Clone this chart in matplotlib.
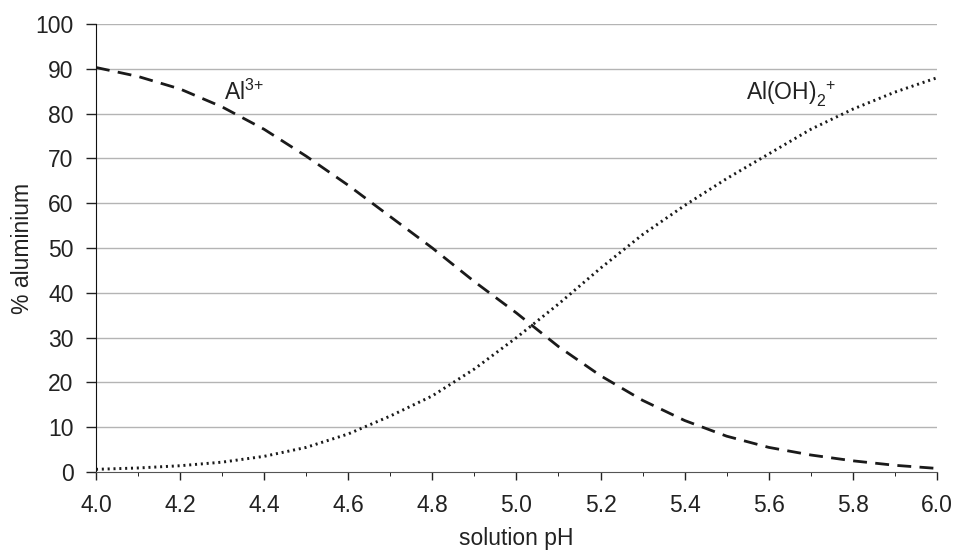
import numpy as np
import matplotlib
matplotlib.use("Agg")
from matplotlib import pyplot as plt

plt.rcParams['font.family'] = ['Liberation Sans', 'DejaVu Sans']
plt.rcParams['mathtext.fontset'] = 'custom'
plt.rcParams['mathtext.rm'] = 'Liberation Sans'
plt.rcParams['mathtext.it'] = 'Liberation Sans'

ph = [4.0, 4.1, 4.2, 4.3, 4.4, 4.5, 4.6, 4.7, 4.8, 4.9, 5.0,
      5.1, 5.2, 5.3, 5.4, 5.5, 5.6, 5.7, 5.8, 5.9, 6.0]
al3 = [90.3, 88.3, 85.5, 81.5, 76.5, 70.5, 64.0, 57.0, 50.0, 42.5, 35.5,
       28.0, 21.5, 16.0, 11.5, 8.0, 5.5, 3.8, 2.5, 1.5, 0.8]
aloh2 = [0.6, 0.9, 1.4, 2.2, 3.5, 5.5, 8.5, 12.5, 17.0, 23.0, 30.0,
         37.5, 45.5, 53.0, 59.5, 65.5, 71.0, 76.5, 81.0, 84.8, 88.0]

fig = plt.figure(figsize=(9.57, 5.5), dpi=100)
ax = fig.add_axes([0.1003, 0.1418, 0.8787, 0.8145])

for y in range(10, 101, 10):
    ax.axhline(y, color="#b4b4b4", lw=1.0, zorder=0)

ax.plot(ph, al3, color="#1a1a1a", lw=2.0, linestyle=(0, (5, 3)))
ax.plot(ph, aloh2, color="#1a1a1a", lw=2.1, linestyle=(0, (0.7, 1.3)))

ax.text(4.305, 83, r"Al$^{3{+}}$", fontsize=16.5, color="#222222")
ax.text(5.545, 83, r"Al(OH)$_2^{\ \ {+}}$", fontsize=16.5, color="#222222")

ax.set_xlim(4.0, 6.0)
ax.set_ylim(0, 100)
ax.set_xticks(np.arange(4.0, 6.01, 0.2))
ax.set_xticks(np.arange(4.1, 6.0, 0.2), minor=True)
ax.set_xticklabels([f"{v:.1f}" for v in np.arange(4.0, 6.01, 0.2)])
ax.set_yticks(range(0, 101, 10))

for s in ["top", "right"]:
    ax.spines[s].set_visible(False)
ax.spines["left"].set_color("#111111")
ax.spines["bottom"].set_color("#555555")
ax.tick_params(axis="both", direction="out", labelsize=16.5, colors="#222222", width=1)
ax.tick_params(axis="y", length=7.2, pad=9)
ax.tick_params(axis="x", which="major", length=6, pad=10)
ax.tick_params(axis="x", which="minor", length=3)

ax.set_xlabel("solution pH", fontsize=16.5, color="#222222", labelpad=7)
ax.set_ylabel("% aluminium", fontsize=16.5, color="#222222", labelpad=1)

fig.savefig("out.png", dpi=100)
